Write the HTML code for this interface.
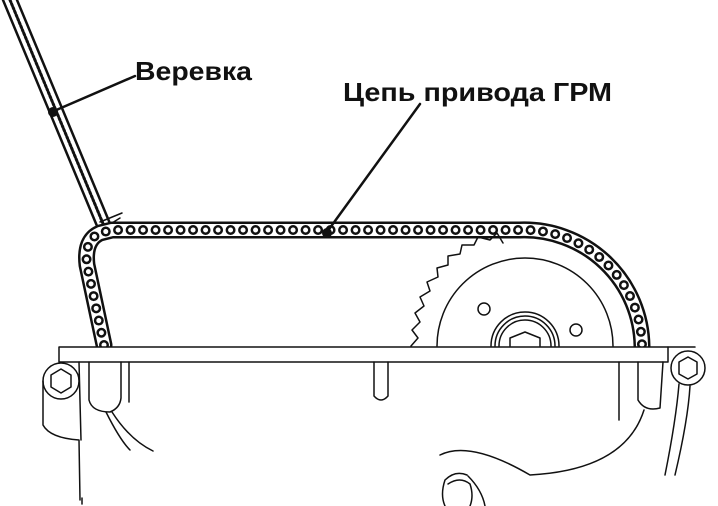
<!DOCTYPE html>
<html><head><meta charset="utf-8"><style>
html,body{margin:0;padding:0;background:#fff;width:718px;height:506px;overflow:hidden}
</style></head><body>
<svg width="718" height="506" viewBox="0 0 718 506" xmlns="http://www.w3.org/2000/svg">
<g fill="none" stroke="#111" stroke-linecap="round" stroke-linejoin="round">
<!-- rope -->
<line x1="3" y1="0" x2="97" y2="226" stroke-width="2.5"/>
<line x1="17" y1="0" x2="111" y2="226" stroke-width="2.5"/>
<line x1="10" y1="0" x2="104" y2="226" stroke-width="3" stroke-dasharray="2 2"/>
<path d="M100 222 L122 213 M104 228 L120 218" stroke-width="1.5"/>
<!-- chain -->
<path d="M104 345 L87 265 Q84 240 100 233 L112 230 L520 230 A118 118 0 0 1 642 346" stroke-width="17"/>
<path d="M104 345 L87 265 Q84 240 100 233 L112 230 L520 230 A118 118 0 0 1 642 346" stroke="#fff" stroke-width="12"/>
<path d="M104 345 L87 265 Q84 240 100 233 L112 230 L520 230 A118 118 0 0 1 642 346" stroke-width="10" stroke-dasharray="0 12.5"/>
<path d="M104 345 L87 265 Q84 240 100 233 L112 230 L520 230 A118 118 0 0 1 642 346" stroke="#fff" stroke-width="5" stroke-dasharray="0 12.5"/>
<!-- sprocket teeth -->
<path d="M411 346 L418 338 L412 330 L420 322 L415 313 L424 306 L420 297 L430 291 L427 282 L438 277 L437 268 L448 265 L448 256 L460 254 L462 245 L474 245 L478 237 L490 240 L497 233 L503 243" stroke-width="1.5"/>
<path d="M437 346 A88 88 0 0 1 613 346" stroke-width="1.5"/>
<circle cx="484" cy="309" r="6" stroke-width="1.5"/>
<circle cx="576" cy="330" r="6" stroke-width="1.5"/>
<path d="M491 346 A34 34 0 0 1 559 346 M495 346 A30 30 0 0 1 555 346 M499 346 A26 26 0 0 1 551 346" stroke-width="1.5"/>
<path d="M510 346 L510 338 L525 332 L540 338 L540 346" stroke-width="1.5"/>
<!-- plate -->
<rect x="59" y="347" width="609" height="15" fill="#fff" stroke-width="1.5"/>
<!-- left bolt -->
<circle cx="61" cy="381" r="18" fill="#fff" stroke-width="1.5"/>
<path d="M61 369 L71 375 L71 387 L61 393 L51 387 L51 375 Z" stroke-width="1.5"/>
<path d="M43 381 L43 425 Q50 438 79 440 L80 500 M79 362 L81 440" stroke-width="1.5"/>
<path d="M89 362 L89 400 Q92 412 110 412 Q120 408 121 398 L121 362 M129 362 L129 402" stroke-width="1.5"/>
<path d="M106 412 Q120 440 130 450 M112 412 Q130 440 153 451" stroke-width="1.5"/>
<path d="M82 498 L82 504" stroke-width="1.5"/>
<!-- middle tab -->
<path d="M374 362 L374 396 Q381 404 388 396 L388 362" stroke-width="1.5"/>
<!-- right side -->
<path d="M619 362 L619 420 M638 362 L638 400 Q645 412 660 408 L663 362" stroke-width="1.5"/>
<path d="M644 410 Q625 470 530 475 Q470 440 440 455" stroke-width="1.5"/>
<path d="M467 475 Q455 470 445 480 Q440 495 445 506 M468 476 Q482 490 485 506" stroke-width="1.5"/>
<path d="M448 484 Q460 476 470 484 Q474 496 470 506" stroke-width="1.5"/>
<circle cx="688" cy="368" r="17" fill="#fff" stroke-width="1.5"/>
<path d="M688 357 L697 362 L697 374 L688 379 L679 374 L679 362 Z" stroke-width="1.5"/>
<path d="M679 384 Q676 420 665 475 M690 386 Q688 420 675 475 M668 347 L695 347" stroke-width="1.5"/>
<!-- leaders -->
<line x1="135" y1="76" x2="54" y2="111" stroke-width="2.5"/>
<line x1="420" y1="104" x2="327" y2="232" stroke-width="2.5"/>
</g>
<circle cx="53" cy="112" r="5" fill="#111"/>
<circle cx="327" cy="233" r="5" fill="#111"/>
<g font-family="Liberation Sans, DejaVu Sans, sans-serif" font-weight="bold" font-size="26" fill="#111">
<text x="135" y="80" textLength="117" lengthAdjust="spacingAndGlyphs">Веревка</text>
<text x="343" y="101" textLength="269" lengthAdjust="spacingAndGlyphs">Цепь привода ГРМ</text>
</g>
</svg>
</body></html>
